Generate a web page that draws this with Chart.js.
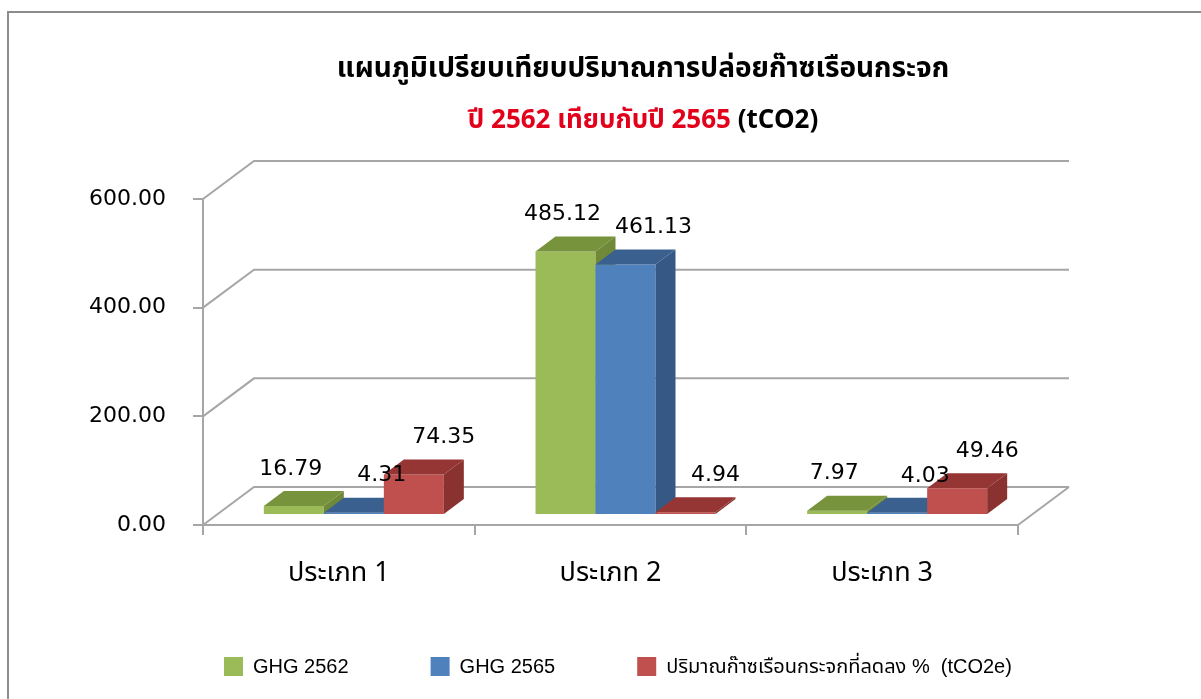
<!DOCTYPE html>
<html>
<head>
<meta charset="utf-8">
<script src="https://cdn.jsdelivr.net/npm/chart.js@4.4.0/dist/chart.umd.min.js"></script>
<style>
  html, body { margin:0; padding:0; background:#fff; overflow:hidden; }
  #wrap { position:relative; width:1201px; height:699px; overflow:hidden; }
  #frame { position:absolute; left:7px; top:11px; width:1300px; height:800px; border:2px solid #8c8c8c; box-sizing:border-box; }
  canvas { position:absolute; left:0; top:0; }
</style>
</head>
<body>
<div id="wrap">
  <div id="frame"></div>
  <canvas id="ghgChart" width="1201" height="699"></canvas>
</div>
<script>
const categories = ['ประเภท 1', 'ประเภท 2', 'ประเภท 3'];
const ghg2562 = [16.79, 485.12, 7.97];
const ghg2565 = [4.31, 461.13, 4.03];
const reducePct = [74.35, 4.94, 49.46];
const seriesNames = ['GHG 2562', 'GHG 2565', 'ปริมาณก๊าซเรือนกระจกที่ลดลง %  (tCO2e)'];
const yTicks = [0, 200, 400, 600];
const titleText = 'แผนภูมิเปรียบเทียบปริมาณการปล่อยก๊าซเรือนกระจก';
const subRed = 'ปี 2562 เทียบกับปี 2565';
const subBlack = ' (tCO2)';

const thaiFont = "'Noto Sans Thai', 'Noto Sans', 'DejaVu Sans', sans-serif";
const numFont = "'DejaVu Sans', sans-serif";
const legendFont = "'Liberation Sans', " + thaiFont;

// 3d look: bars sit a bit behind the front axis, wall further back
const plane = {dx: 15, dy: -10};
const wall = {dx: 51, dy: -38};
const bd = {dx: 20, dy: -15};
const faceColors = [['#77933C', '#6F8938'], ['#3A6090', '#355885'], ['#963634', '#8A322F']];
const labelShift = [-3, 28, 30];

const threeD = {
    id: 'threeD',
    beforeDatasetsDraw(chart) {
        let ctx = chart.ctx, y = chart.scales.y, a = chart.chartArea;
        ctx.save();
        ctx.strokeStyle = '#a6a6a6';
        ctx.lineWidth = 2;
        yTicks.forEach(v => {
            let py = y.getPixelForValue(v);
            ctx.beginPath();
            ctx.moveTo(a.left, py);
            ctx.lineTo(a.left + wall.dx, py + wall.dy);
            ctx.lineTo(a.right + wall.dx, py + wall.dy);
            ctx.stroke();
        });
        let p0 = y.getPixelForValue(0);
        ctx.beginPath();
        ctx.moveTo(a.right, p0);
        ctx.lineTo(a.right + wall.dx, p0 + wall.dy);
        ctx.stroke();
        ctx.restore();
    },
    // chart.js paints the last dataset first, so paint them here left to right
    beforeDatasetDraw() {
        return false;
    },
    afterDatasetsDraw(chart) {
        let ctx = chart.ctx;
        chart.data.datasets.forEach((ds, i) => {
            let meta = chart.getDatasetMeta(i);
            let cols = faceColors[i];
            ctx.save();
            ctx.translate(plane.dx, plane.dy);
            meta.controller.draw();
            meta.data.forEach(bar => {
                let l = bar.x - bar.width / 2, r = bar.x + bar.width / 2;
                let t = Math.min(bar.y, bar.base), b = Math.max(bar.y, bar.base);
                ctx.fillStyle = cols[0];
                ctx.beginPath();
                ctx.moveTo(l, t);
                ctx.lineTo(l + bd.dx, t + bd.dy);
                ctx.lineTo(r + bd.dx, t + bd.dy);
                ctx.lineTo(r, t);
                ctx.closePath();
                ctx.fill();
                ctx.fillStyle = cols[1];
                ctx.beginPath();
                ctx.moveTo(r, t);
                ctx.lineTo(r + bd.dx, t + bd.dy);
                ctx.lineTo(r + bd.dx, b + bd.dy);
                ctx.lineTo(r, b);
                ctx.closePath();
                ctx.fill();
            });
            ctx.restore();
        });

        ctx.save();
        ctx.font = '22px ' + numFont;
        ctx.fillStyle = '#000';
        ctx.textAlign = 'center';
        ctx.textBaseline = 'middle';
        chart.data.datasets.forEach((ds, i) => {
            chart.getDatasetMeta(i).data.forEach((bar, j) => {
                ctx.fillText(ds.data[j].toFixed(2), bar.x + plane.dx + labelShift[i], bar.y + plane.dy - 37);
            });
        });
        ctx.restore();
    },
    afterDraw(chart) {
        let ctx = chart.ctx;
        let cx = 643;
        ctx.save();
        ctx.textBaseline = 'middle';
        ctx.font = 'bold 28px ' + thaiFont;
        ctx.fillStyle = '#000';
        ctx.textAlign = 'center';
        ctx.fillText(titleText, cx, 71);
        ctx.textAlign = 'left';
        ctx.font = 'bold 26px ' + thaiFont;
        let w1 = ctx.measureText(subRed).width;
        let w2 = ctx.measureText(subBlack).width;
        let x0 = cx - (w1 + w2) / 2;
        ctx.fillStyle = '#e3001b';
        ctx.fillText(subRed, x0, 123);
        ctx.fillStyle = '#000';
        ctx.fillText(subBlack, x0 + w1, 123);

        // legend
        ctx.font = '20px ' + legendFont;
        let lx = 224;
        chart.data.datasets.forEach(ds => {
            ctx.fillStyle = ds.backgroundColor;
            ctx.fillRect(lx, 657, 19, 19);
            ctx.fillStyle = '#000';
            ctx.fillText(ds.label, lx + 29, 667);
            lx += 29 + ctx.measureText(ds.label).width + 82;
        });
        ctx.restore();
    }
};

let ghgChart = new Chart(document.getElementById('ghgChart'), {
    type: 'bar',
    data: {
        labels: categories,
        datasets: [
            {label: seriesNames[0], data: ghg2562, backgroundColor: '#9BBB59', borderWidth: 0, clip: false},
            {label: seriesNames[1], data: ghg2565, backgroundColor: '#4F81BD', borderWidth: 0, clip: false},
            {label: seriesNames[2], data: reducePct, backgroundColor: '#C0504D', borderWidth: 0, clip: false}
        ]
    },
    options: {
        responsive: false,
        animation: false,
        categoryPercentage: 0.6626,
        barPercentage: 1,
        layout: {padding: {left: 86, right: 183, top: 199, bottom: 94}},
        plugins: {
            tooltip: {enabled: false},
            legend: {display: false}
        },
        scales: {
            x: {
                grid: {display: true, drawOnChartArea: false, color: '#a6a6a6', lineWidth: 2, tickLength: 10},
                border: {display: true, color: '#a6a6a6', width: 2},
                ticks: {color: '#000', padding: 24, font: {size: 27, family: thaiFont}},
                afterFit(s) { s.height = 80; }
            },
            y: {
                min: 0,
                max: 600,
                grid: {display: true, drawOnChartArea: false, color: '#a6a6a6', lineWidth: 2, tickLength: 10},
                border: {display: true, color: '#a6a6a6', width: 2},
                ticks: {
                    stepSize: 200,
                    color: '#000',
                    padding: 27,
                    font: {size: 22, family: numFont},
                    callback: v => v.toFixed(2)
                },
                afterFit(s) { s.width = 117; }
            }
        }
    },
    plugins: [threeD]
});
</script>
</body>
</html>
